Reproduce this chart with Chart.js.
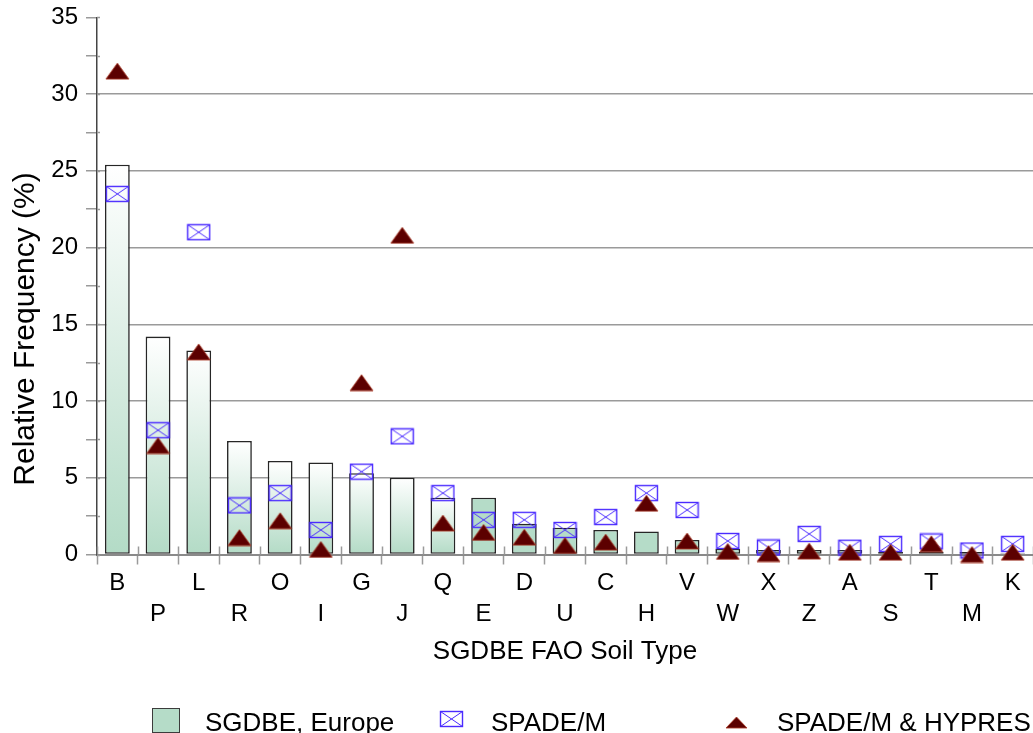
<!DOCTYPE html>
<html>
<head>
<meta charset="utf-8">
<script src="https://cdn.jsdelivr.net/npm/chart.js@4.4.1/dist/chart.umd.min.js"></script>
<style>
  html, body { margin: 0; padding: 0; overflow: hidden; background: #ffffff; }
  #wrap { position: relative; width: 1040px; height: 733px; }
</style>
</head>
<body>
<div id="wrap"><canvas id="c" width="1040" height="733"></canvas></div>
<script>
// ---------------- data ----------------
const categories = ['B','P','L','R','O','I','G','J','Q','E','D','U','C','H','V','W','X','Z','A','S','T','M','K'];
const sgdbeEurope = [25.4,14.2,13.3,7.4,6.1,6.0,5.3,5.0,3.7,3.7,2.0,1.75,1.6,1.5,0.95,0.38,0.3,0.3,0.3,0.17,0.17,0.17,0.08];
const spadeM      = [23.5,8.1,21.0,3.2,4.0,1.6,5.4,7.7,4.0,2.26,2.26,1.6,2.44,4.0,2.9,0.88,0.46,1.34,0.44,0.69,0.85,0.26,0.69];
const spadeHypres = [31.5,7.1,13.2,1.1,2.2,0.33,11.2,20.8,2.05,1.44,1.13,0.59,0.81,3.34,0.88,0.2,0.06,0.22,0.15,0.15,0.7,0.0,0.15];
const seriesLabels = ['SGDBE, Europe', 'SPADE/M', 'SPADE/M & HYPRES'];
const yTickLabels = [0, 5, 10, 15, 20, 25, 30, 35];
const yMinorStep = 2.5;
const xTitle = 'SGDBE FAO Soil Type';
const yTitle = 'Relative Frequency (%)';

// ---------------- styles ----------------
const FONT = "'Liberation Sans', Arial, Helvetica, sans-serif";
Chart.defaults.font.family = FONT;
Chart.defaults.color = '#000';
const GREEN = '#b5dcc8';
const gradientBarCount = 9;

function makeBox() {
  const c = document.createElement('canvas');
  c.width = 25; c.height = 18;
  const g = c.getContext('2d');
  g.strokeStyle = '#4a2bff';
  g.lineWidth = 1.4;
  g.strokeRect(1.5, 1.5, 22, 15);
  g.beginPath();
  g.moveTo(1.5, 1.5); g.lineTo(23.5, 16.5);
  g.moveTo(23.5, 1.5); g.lineTo(1.5, 16.5);
  g.lineWidth = 1;
  g.stroke();
  return c;
}
function makeTri(w, h) {
  const c = document.createElement('canvas');
  c.width = w + 2; c.height = h + 2;
  const g = c.getContext('2d');
  g.beginPath();
  g.moveTo(1 + w / 2, 1); g.lineTo(1 + w, 1 + h); g.lineTo(1, 1 + h); g.closePath();
  g.fillStyle = '#5c0000';
  g.fill();
  g.strokeStyle = 'rgba(170,60,40,0.85)';
  g.lineWidth = 1;
  g.stroke();
  return c;
}
const boxImg = makeBox();
const triImg = makeTri(23, 16);
const triLegendImg = makeTri(21, 11);

function barFill(ctx) {
  const chart = ctx.chart;
  if (ctx.type !== 'data' || !chart.chartArea || ctx.dataIndex >= gradientBarCount) return GREEN;
  const ys = chart.scales.y;
  const top = ys.getPixelForValue(ctx.raw), bot = ys.getPixelForValue(0);
  const gr = chart.ctx.createLinearGradient(0, top, 0, bot);
  gr.addColorStop(0, '#ffffff');
  gr.addColorStop(1, '#b3dbc6');
  return gr;
}

// ---------------- plugins ----------------
const extras = {
  id: 'extras',
  beforeDatasetsDraw(chart) {
    const { ctx } = chart;
    const xs = chart.scales.x;
    const step = xs.width / categories.length;
    const y0 = xs.top;
    ctx.save();
    ctx.strokeStyle = '#9a9a9a';
    ctx.lineWidth = 1.5;
    ctx.beginPath();
    for (let i = 0; i <= categories.length; i++) {
      const x = Math.round(xs.left + i * step) + 0.5;
      ctx.moveTo(x, y0 - 8); ctx.lineTo(x, y0);
    }
    ctx.stroke();
    // small extension of y ticks to the right of the axis
    const ys = chart.scales.y;
    ctx.beginPath();
    for (let v = 0; v <= 35; v += yMinorStep) {
      const y = Math.round(ys.getPixelForValue(v)) + 0.5;
      ctx.moveTo(ys.right, y); ctx.lineTo(ys.right + 3, y);
    }
    ctx.stroke();
    ctx.restore();
  },
  afterDraw(chart) {
    const { ctx } = chart;
    const ys = chart.scales.y;
    ctx.save();
    // y axis title
    ctx.fillStyle = '#000';
    ctx.font = '30px ' + FONT;
    ctx.textAlign = 'center';
    ctx.textBaseline = 'alphabetic';
    ctx.translate(33.5, (ys.top + ys.bottom) / 2 + 43);
    ctx.rotate(-Math.PI / 2);
    ctx.fillText(yTitle, 0, 0);
    ctx.restore();

    // legend
    const ds = chart.data.datasets;
    const byLabel = l => ds.find(d => d.label === l);
    const items = [
      { x: 152, tx: 205 },
      { x: 439, tx: 491 },
      { x: 725, tx: 777 }
    ];
    ctx.save();
    ctx.font = '26px ' + FONT;
    ctx.textBaseline = 'alphabetic';
    ctx.textAlign = 'left';
    ctx.fillStyle = GREEN;
    ctx.fillRect(152, 708, 28, 25);
    ctx.strokeStyle = '#3c3c3c';
    ctx.lineWidth = 1;
    ctx.strokeRect(152.5, 708.5, 27, 24);
    ctx.drawImage(boxImg, items[1].x, 710);
    ctx.drawImage(triLegendImg, items[2].x, 716);
    ctx.fillStyle = '#000';
    seriesLabels.forEach((l, i) => ctx.fillText(byLabel(l).label, items[i].tx, 730.5));
    ctx.restore();
  }
};

// ---------------- chart ----------------
new Chart(document.getElementById('c'), {
  type: 'bar',
  data: {
    labels: categories,
    datasets: [
      {
        type: 'bar', label: seriesLabels[0], data: sgdbeEurope,
        backgroundColor: barFill, borderColor: '#262626', borderWidth: 1.6, borderSkipped: false,
        barPercentage: 0.61, categoryPercentage: 1, order: 3
      },
      {
        type: 'line', label: seriesLabels[1], data: spadeM,
        showLine: false, pointStyle: boxImg, pointRadius: 6, clip: false, order: 2
      },
      {
        type: 'line', label: seriesLabels[2], data: spadeHypres,
        showLine: false, pointStyle: triImg, pointRadius: 6, clip: false, order: 1
      }
    ]
  },
  options: {
    responsive: false,
    animation: false,
    events: [],
    layout: { padding: { top: 17.4, left: 0, right: 0, bottom: 60 } },
    plugins: { legend: { display: false }, tooltip: { enabled: false } },
    scales: {
      x: {
        offset: true,
        afterFit: s => { s.height = 118.5; },
        grid: { display: true, drawOnChartArea: false, drawTicks: true, tickLength: 10,
                tickColor: '#9a9a9a', tickWidth: 1.5, offset: true },
        border: { display: true, color: '#8a8a8a', width: 2 },
        ticks: {
          autoSkip: false, maxRotation: 0, minRotation: 0, padding: 3, color: '#000',
          font: { size: 24, lineHeight: 31 / 24 },
          callback: (v, i) => (i % 2 === 0 ? [categories[i]] : ['', categories[i]])
        },
        title: { display: true, text: xTitle, color: '#000', font: { size: 26 },
                 padding: { top: 0, bottom: 6 } }
      },
      y: {
        min: 0, max: 35,
        afterFit: s => { s.width = 97; },
        ticks: {
          stepSize: yMinorStep, autoSkip: false, padding: 8, color: '#000',
          font: { size: 24, lineHeight: 0.7 },
          callback: v => (yTickLabels.includes(v) ? String(v) : '')
        },
        grid: {
          color: c => (c.tick && c.tick.value % 5 === 0 && c.tick.value > 0 && c.tick.value < 35) ? '#9a9a9a' : 'rgba(0,0,0,0)',
          lineWidth: 1.5, drawTicks: true, tickLength: 11, tickColor: '#9a9a9a', tickWidth: 1.5
        },
        border: { display: true, color: '#444', width: 1.5 },
        title: { display: false }
      }
    }
  },
  plugins: [extras]
});
</script>
</body>
</html>
